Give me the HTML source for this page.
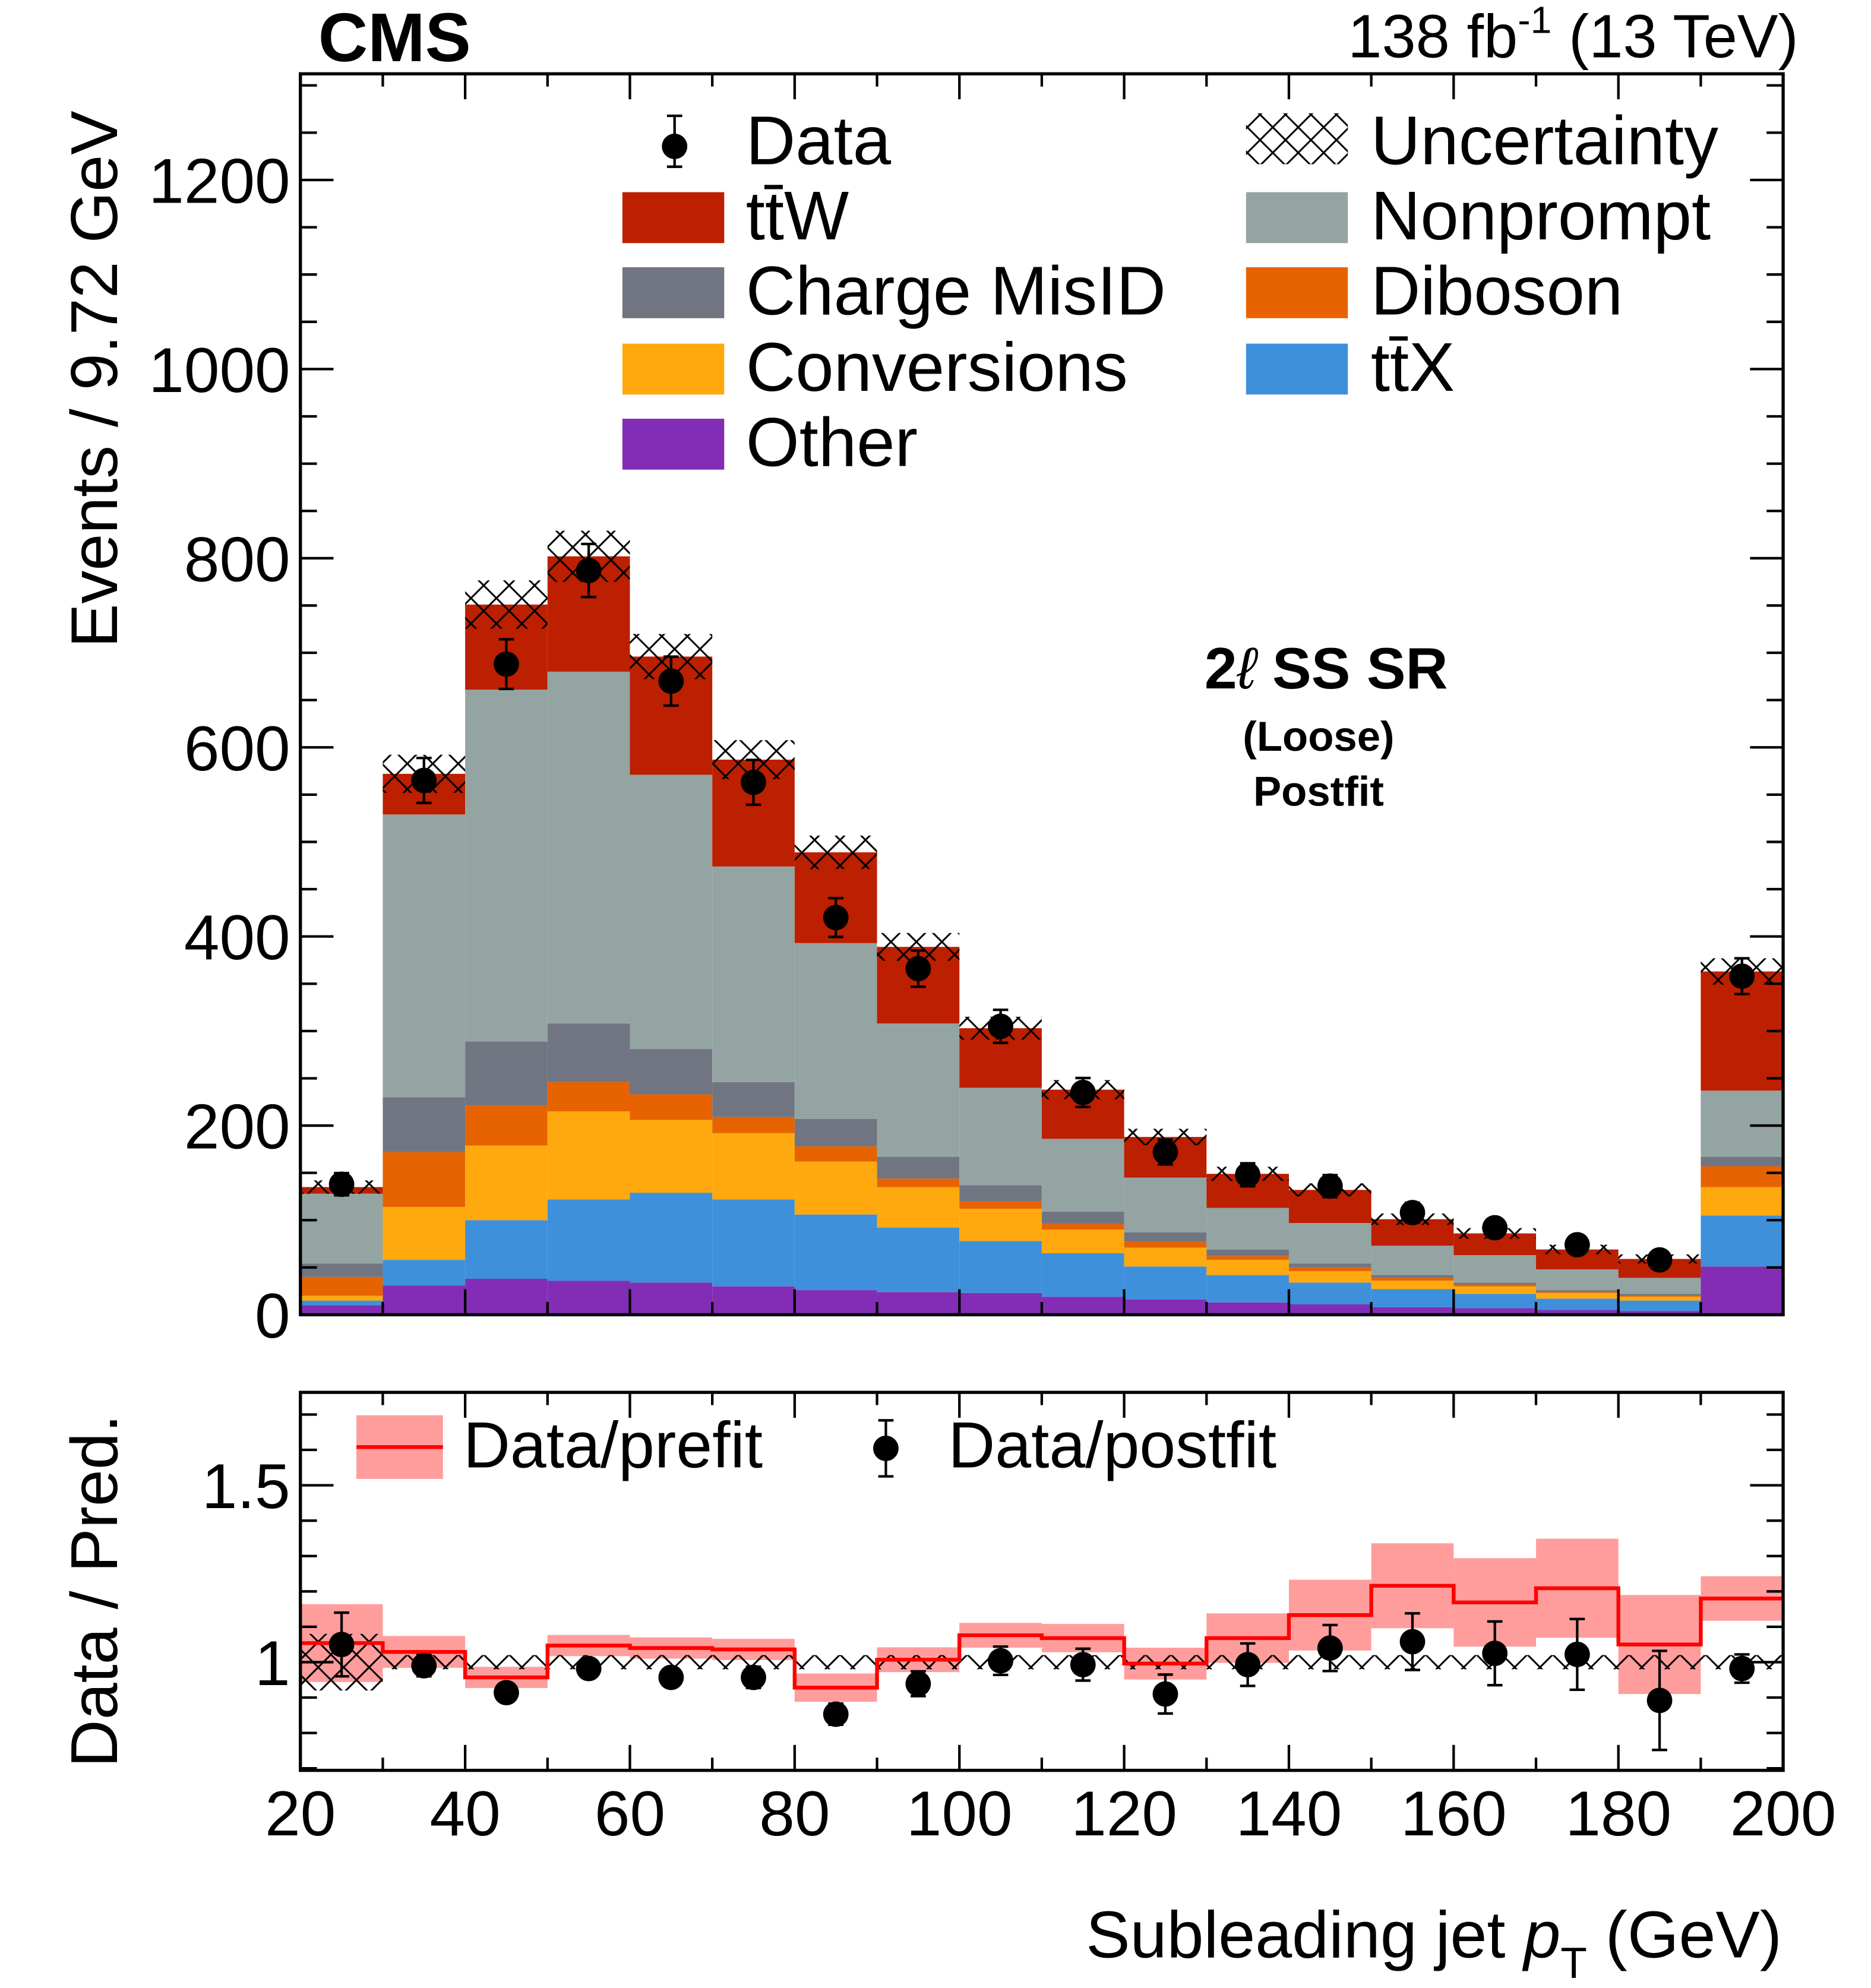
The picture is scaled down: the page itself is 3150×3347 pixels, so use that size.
<!DOCTYPE html>
<html><head><meta charset="utf-8"><style>
html,body{margin:0;padding:0;background:#fff;}
svg{display:block;font-family:"Liberation Sans",sans-serif;}
</style></head><body>
<svg id="chart" width="3150" height="3347" viewBox="0 0 1470 1562" xmlns="http://www.w3.org/2000/svg">
<defs>
<pattern id="hatch" patternUnits="userSpaceOnUse" width="20" height="20">
<path d="M0,0 L20,20 M20,0 L0,20" stroke="#000" stroke-width="1.4"/>
</pattern>
<clipPath id="clipTop"><rect x="236" y="58" width="1165" height="975"/></clipPath>
<clipPath id="clipBot"><rect x="236" y="1094" width="1165" height="297"/></clipPath>
</defs>
<g id="main"></g>
<g id="ratio"></g>
<g id="texts">
<text x="250" y="48" font-size="54" font-weight="bold">CMS</text>
<text x="1413" y="45" font-size="48" text-anchor="end">138 fb<tspan font-size="30" dy="-19">-1</tspan><tspan dy="19"> (13 TeV)</tspan></text>
<text transform="translate(92,298) rotate(-90)" font-size="52" text-anchor="middle">Events / 9.72 GeV</text>
<text transform="translate(92,1250) rotate(-90)" font-size="52" text-anchor="middle">Data / Pred.</text>
<text x="1400" y="1538" font-size="52" text-anchor="end">Subleading jet <tspan font-style="italic">p</tspan><tspan font-size="34" dy="16">T</tspan><tspan dy="-16"> (GeV)</tspan></text>
<text x="1042" y="541" font-size="46" font-weight="bold" text-anchor="middle">2<tspan font-style="italic" font-weight="normal">ℓ</tspan> SS SR</text>
<text x="1036" y="590" font-size="33" font-weight="bold" text-anchor="middle">(Loose)</text>
<text x="1036" y="633" font-size="33" font-weight="bold" text-anchor="middle">Postfit</text>
</g>
<g id="legend"></g>
</svg>
<script>
const binEdges=[20,30,40,50,60,70,80,90,100,110,120,130,140,150,160,170,180,190,200];
const other=[10,31,38,36,34,30,26,24,23,19,16,13,11,8,7,5,4,51];
const ttX=[5,27,62,86,95,92,80,68,55,46,35,29,23,19,15,12,11,54];
const conversions=[5,56,79,93,77,70,56,43,34,25,20,16,12,9,8,6,4,30];
const diboson=[20,58,42,31,27,17,16,9,8,6,6,4,4,3,2,1,1,22];
const chargeMisID=[14,58,68,62,48,37,29,23,17,13,10,7,4,3,2,2,2,10];
const nonprompt=[74,299,372,372,290,228,186,141,103,77,58,44,43,31,29,22,17,70];
const ttW=[7,43,90,122,125,113,96,81,63,52,43,36,35,28,23,21,20,126];
const dataCounts=[138,565,688,787,670,563,420,366,305,235,172,148,136,108,92,74,58,358];
const ratioPost=[1.05,0.99,0.914,0.982,0.957,0.957,0.853,0.939,1.004,0.993,0.91,0.993,1.04,1.058,1.025,1.022,0.892,0.982];
const ratioPostErr=[0.09,0.03,0.025,0.02,0.025,0.03,0.03,0.035,0.04,0.045,0.055,0.06,0.065,0.08,0.09,0.1,0.14,0.04];
const ratioPre=[1.054,1.029,0.957,1.047,1.04,1.036,0.928,1.007,1.076,1.068,0.996,1.068,1.133,1.216,1.169,1.209,1.05,1.18];
const ratioPreErr=[0.11,0.045,0.03,0.03,0.03,0.03,0.04,0.035,0.035,0.04,0.045,0.07,0.1,0.12,0.125,0.14,0.14,0.063];
const ratioUnc=[0.08,0.02,0.02,0.02,0.02,0.02,0.02,0.02,0.02,0.02,0.02,0.02,0.02,0.02,0.02,0.02,0.02,0.02];
const yTicks=[0,200,400,600,800,1000,1200];
const xTicks=[20,40,60,80,100,120,140,160,180,200];
const ratioTicks=[1,1.5];

const NS="http://www.w3.org/2000/svg";
function mk(tag,attrs,parent){const e=document.createElementNS(NS,tag);for(const k in attrs)e.setAttribute(k,attrs[k]);parent.appendChild(e);return e;}
const X0=236,X1=1401;
const xs=v=>X0+(v-20)/180*(X1-X0);
const ys=v=>1033-v*0.743;
const yr=v=>1306-(v-1)*278;
const main=document.getElementById('main');
const ratio=document.getElementById('ratio');
const legend=document.getElementById('legend');

const comps=[['other',other,'#832db6'],['ttx',ttX,'#3f90da'],['conversions',conversions,'#ffa90e'],['diboson',diboson,'#e76300'],['charge-misid',chargeMisID,'#717581'],['nonprompt',nonprompt,'#94a4a2'],['ttw',ttW,'#bd1f01']];
const gStack=mk('g',{'clip-path':'url(#clipTop)'},main);
for(let i=0;i<binEdges.length-1;i++){
  let cum=0;
  const xa=xs(binEdges[i]),xb=xs(binEdges[i+1]);
  for(const [nm,arr,col] of comps){
    const r=mk('rect',{x:xa,y:ys(cum+arr[i]),width:xb-xa,height:ys(cum)-ys(cum+arr[i]),fill:col},gStack);
    
    
    cum+=arr[i];
  }
  const u=cum*0.03+3;
  const h=mk('rect',{x:xa,y:ys(cum+u),width:xb-xa,height:ys(cum-u)-ys(cum+u),fill:'url(#hatch)'},gStack);
  
  
}
for(let i=0;i<dataCounts.length;i++){
  const xc=xs((binEdges[i]+binEdges[i+1])/2),v=dataCounts[i],e=Math.sqrt(v);
  mk('line',{x1:xc,x2:xc,y1:ys(v+e),y2:ys(v-e),stroke:'#000','stroke-width':2},main);
  mk('line',{x1:xc-6,x2:xc+6,y1:ys(v+e),y2:ys(v+e),stroke:'#000','stroke-width':2},main);
  mk('line',{x1:xc-6,x2:xc+6,y1:ys(v-e),y2:ys(v-e),stroke:'#000','stroke-width':2},main);
  const c=mk('circle',{cx:xc,cy:ys(v),r:10,fill:'#000'},main);
  
  
}
function frame(g,ytop,ybot){
  mk('rect',{x:X0,y:ytop,width:X1-X0,height:ybot-ytop,fill:'none',stroke:'#000','stroke-width':2.5},g);
  for(let v=20;v<=200;v+=10){
    const L=(v%20===0)?20:10;
    mk('line',{x1:xs(v),x2:xs(v),y1:ybot,y2:ybot-L,stroke:'#000','stroke-width':2},g);
    mk('line',{x1:xs(v),x2:xs(v),y1:ytop,y2:ytop+L,stroke:'#000','stroke-width':2},g);
  }
}
frame(main,58,1033);
for(let v=0;v<=1300;v+=50){
  if(ys(v)<58)break;
  const L=(v%200===0)?26:13;
  mk('line',{x1:X0,x2:X0+L,y1:ys(v),y2:ys(v),stroke:'#000','stroke-width':2},main);
  mk('line',{x1:X1,x2:X1-L,y1:ys(v),y2:ys(v),stroke:'#000','stroke-width':2},main);
}
for(const t of yTicks){
  const tx=mk('text',{x:228,y:ys(t)+18,'font-size':50,'text-anchor':'end'},main);
  tx.textContent=t;
  
  
}
const gR=mk('g',{'clip-path':'url(#clipBot)'},ratio);
for(let i=0;i<ratioPre.length;i++){
  const xa=xs(binEdges[i]),xb=xs(binEdges[i+1]);
  const b=mk('rect',{x:xa,y:yr(ratioPre[i]+ratioPreErr[i]),width:xb-xa,height:yr(ratioPre[i]-ratioPreErr[i])-yr(ratioPre[i]+ratioPreErr[i]),fill:'#ff9d9d'},gR);
  
  
}
for(let i=0;i<ratioUnc.length;i++){
  const xa=xs(binEdges[i]),xb=xs(binEdges[i+1]);
  mk('rect',{x:xa,y:yr(1+ratioUnc[i]),width:xb-xa,height:yr(1-ratioUnc[i])-yr(1+ratioUnc[i]),fill:'url(#hatch)'},gR);
}
let d='';
for(let i=0;i<ratioPre.length;i++){
  const xa=xs(binEdges[i]),xb=xs(binEdges[i+1]);
  d+=(i===0?'M':'L')+xa+','+yr(ratioPre[i])+' L'+xb+','+yr(ratioPre[i])+' ';
}
const pl=mk('path',{d:d,fill:'none',stroke:'#ff0000','stroke-width':3},gR);


for(let i=0;i<ratioPost.length;i++){
  const xc=xs((binEdges[i]+binEdges[i+1])/2),v=ratioPost[i],e=ratioPostErr[i];
  mk('line',{x1:xc,x2:xc,y1:yr(v+e),y2:yr(v-e),stroke:'#000','stroke-width':2},ratio);
  mk('line',{x1:xc-6,x2:xc+6,y1:yr(v+e),y2:yr(v+e),stroke:'#000','stroke-width':2},ratio);
  mk('line',{x1:xc-6,x2:xc+6,y1:yr(v-e),y2:yr(v-e),stroke:'#000','stroke-width':2},ratio);
  const c=mk('circle',{cx:xc,cy:yr(v),r:10,fill:'#000'},ratio);
  
  
}
frame(ratio,1094,1391);
for(let v=0.7;v<=1.76;v+=0.1){
  const vv=Math.round(v*10)/10;
  const L=(Math.abs(vv-1)<1e-6||Math.abs(vv-1.5)<1e-6)?26:13;
  mk('line',{x1:X0,x2:X0+L,y1:yr(vv),y2:yr(vv),stroke:'#000','stroke-width':2},ratio);
  mk('line',{x1:X1,x2:X1-L,y1:yr(vv),y2:yr(vv),stroke:'#000','stroke-width':2},ratio);
}
for(const t of ratioTicks){
  const tx=mk('text',{x:228,y:yr(t)+18,'font-size':50,'text-anchor':'end'},ratio);
  tx.textContent=String(t);
  
  
}
for(const t of xTicks){
  const tx=mk('text',{x:xs(t),y:1442,'font-size':50,'text-anchor':'middle'},ratio);
  tx.textContent=t;
  
  
}
const leg=[['Data',null,530,111],['tt̄W','#bd1f01',489,170],['Charge MisID','#717581',489,229],['Conversions','#ffa90e',489,289],['Other','#832db6',489,348],
['Uncertainty','hatch',979,111],['Nonprompt','#94a4a2',979,170],['Diboson','#e76300',979,229],['tt̄X','#3f90da',979,289]];
for(const [lab,col,x,y] of leg){
  const g=mk('g',{},legend);
  
  
  if(col===null){
    mk('line',{x1:x,x2:x,y1:y-20,y2:y+20,stroke:'#000','stroke-width':2},g);
    mk('line',{x1:x-6,x2:x+6,y1:y-20,y2:y-20,stroke:'#000','stroke-width':2},g);
    mk('line',{x1:x-6,x2:x+6,y1:y+20,y2:y+20,stroke:'#000','stroke-width':2},g);
    mk('circle',{cx:x,cy:y+4,r:10,fill:'#000'},g);
  }else if(col==='hatch'){
    mk('rect',{x:x,y:y-22,width:80,height:40,fill:'url(#hatch)'},g);
  }else{
    mk('rect',{x:x,y:y-19,width:80,height:40,fill:col},g);
  }
  const tx=mk('text',{x:(x<900?586:1077),y:y+18,'font-size':54},g);
  tx.textContent=lab;
}
const rl=mk('g',{},legend);


mk('rect',{x:280,y:1112,width:68,height:50,fill:'#ff9d9d'},rl);
mk('line',{x1:280,x2:348,y1:1137,y2:1137,stroke:'#ff0000','stroke-width':3},rl);
mk('text',{x:364,y:1153,'font-size':51},rl).textContent='Data/prefit';
const rp=mk('g',{},legend);


mk('line',{x1:696,x2:696,y1:1116,y2:1160,stroke:'#000','stroke-width':2},rp);
mk('line',{x1:690,x2:702,y1:1116,y2:1116,stroke:'#000','stroke-width':2},rp);
mk('line',{x1:690,x2:702,y1:1160,y2:1160,stroke:'#000','stroke-width':2},rp);
mk('circle',{cx:696,cy:1138,r:10,fill:'#000'},rp);
mk('text',{x:745,y:1153,'font-size':51},rp).textContent='Data/postfit';
</script>
</body></html>
